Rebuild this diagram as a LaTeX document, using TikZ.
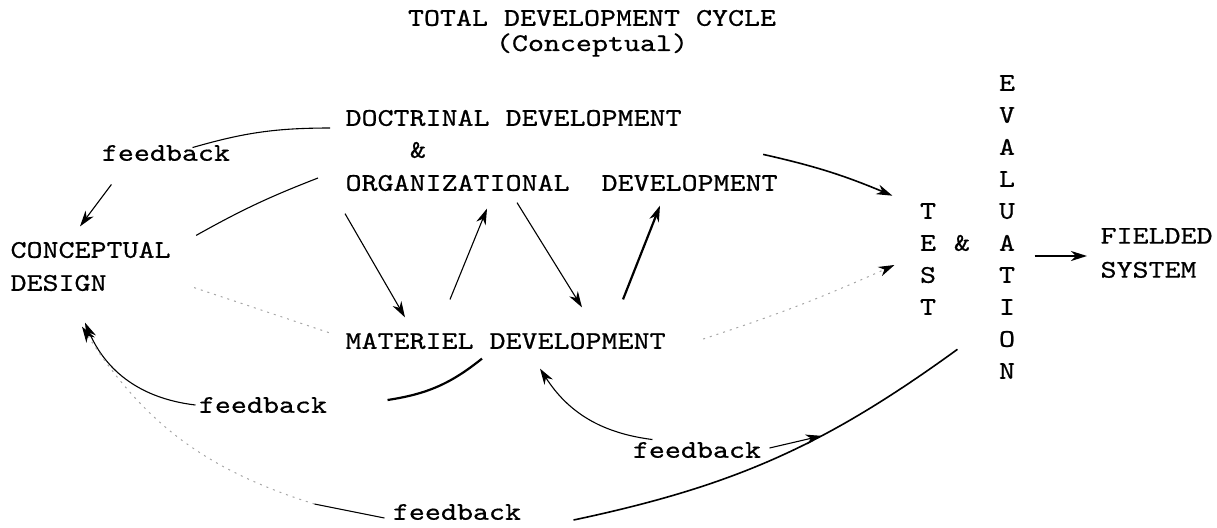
\documentclass[tikz,border=0pt]{standalone}
\usepackage{fontspec}
\setmainfont{lmmono10-regular.otf}[FakeStretch=1.2,FakeBold=0.6]
\usetikzlibrary{arrows.meta}

\tikzset{
  lbl/.style={inner sep=0pt, font=\fontsize{25.4}{33}\selectfont},
  arr/.style={-{Stealth[length=16pt,width=10pt,inset=5pt,color=black]}},
  heavy/.style={line width=2.2pt},
  faint/.style={gray!70, line width=1pt, dash pattern=on 2pt off 5pt},
}

\begin{document}
\begin{tikzpicture}[x=1pt,y=-1pt,line width=1.1pt]
\useasboundingbox (0,0) rectangle (1217,527);
% titles
\node[lbl] (title) at (592,18) {TOTAL DEVELOPMENT CYCLE};
\node[lbl] (subtitle) at (592,45) {(Conceptual)};
% stages
\node[lbl,anchor=west] (doctrinal) at (345,118) {DOCTRINAL DEVELOPMENT};
\node[lbl] (amp) at (418,150) {\&};
\node[lbl,anchor=west] (organizational) at (345,183) {ORGANIZATIONAL\ \ DEVELOPMENT};
\node[lbl,anchor=west,align=left] (conceptual) at (10,266.5) {CONCEPTUAL\\DESIGN};
\node[lbl,anchor=west] (materiel) at (345,341) {MATERIEL DEVELOPMENT};
\node[lbl,align=center,font=\fontsize{25.4}{32}\selectfont] (test) at (928,259) {T\\E\\S\\T};
\node[lbl] (tamp) at (962,243) {\&};
\node[lbl,align=center,font=\fontsize{25.4}{32}\selectfont] (evaluation) at (1007,227) {E\\V\\A\\L\\U\\A\\T\\I\\O\\N};
\node[lbl,anchor=west,align=left,font=\fontsize{25.4}{34}\selectfont] (fielded) at (1100,253) {FIELDED\\SYSTEM};
% feedback labels
\node[lbl] (fbdoc) at (166,153) {feedback};
\node[lbl] (fbmat) at (263,405) {feedback};
\node[lbl] (fbtest) at (697,450) {feedback};
\node[lbl] (fbeval) at (457,512) {feedback};

% doctrinal back to conceptual design
\draw ([shift={(-15,10)}]doctrinal.west) to[bend right=8] ([shift={(-38,3)}]fbdoc.north east);
\draw[arr] ([shift={(10,23)}]fbdoc.south west) -- ([shift={(70,-15)}]conceptual.north west);
\draw ([shift={(-27,-5)}]organizational.west) to[bend right=4] ([shift={(25,-6)}]conceptual.north east);
\draw[faint] ([shift={(23,-4)}]conceptual.south east) -- ([shift={(-15,-8)}]materiel.west);

% cross arrows
\draw[arr] ([shift={(0,22)}]organizational.south west) -- ([shift={(60,-15)}]materiel.north west);
\draw[arr] ([shift={(105,-33)}]materiel.north west) -- ([shift={(142,17)}]organizational.south west);
\draw[arr] ([shift={(172,11)}]organizational.south west) -- ([shift={(237,-25)}]materiel.north west);
\draw[arr,heavy] ([shift={(278,-33)}]materiel.north west) -- ([shift={(315,14)}]organizational.south west);

% into test and evaluation
\draw[arr,line width=1.6pt] ([shift={(-15,-20)}]organizational.north east) to[bend left=5] ([shift={(-27,-7)}]test.north west);
\draw[faint,arr] ([shift={(37,-2)}]materiel.east) to[bend right=3] ([shift={(-25,6)}]test.west);
\draw[arr,heavy] ([shift={(19,29)}]evaluation.east) -- ([shift={(-13,3)}]fielded.west);

% feedback loops
\draw[heavy] ([shift={(137,9)}]materiel.south west) to[bend left=15] ([shift={(60,-5)}]fbmat.east);
\draw[arr] ([shift={(-3,0)}]fbmat.west) to[bend left=30] ([shift={(75,31)}]conceptual.south west);
\draw[line width=1.6pt] ([shift={(-41,-30)}]evaluation.south west) to[bend left=12]
  node[pos=0.37,coordinate] (join) {} ([shift={(52,8)}]fbeval.east);
\draw[arr] ([shift={(8,-2)}]fbtest.east) -- (join);
\draw[arr] ([shift={(20,-2)}]fbtest.north west) to[bend left=25] ([shift={(195,19)}]materiel.south west);
\draw ([shift={(-8,6)}]fbeval.west) -- ++(-70,-14) coordinate (evalfade);
\draw[faint,arr] (evalfade) to[bend left=20] ([shift={(72,35)}]conceptual.south west);
\end{tikzpicture}
\end{document}
